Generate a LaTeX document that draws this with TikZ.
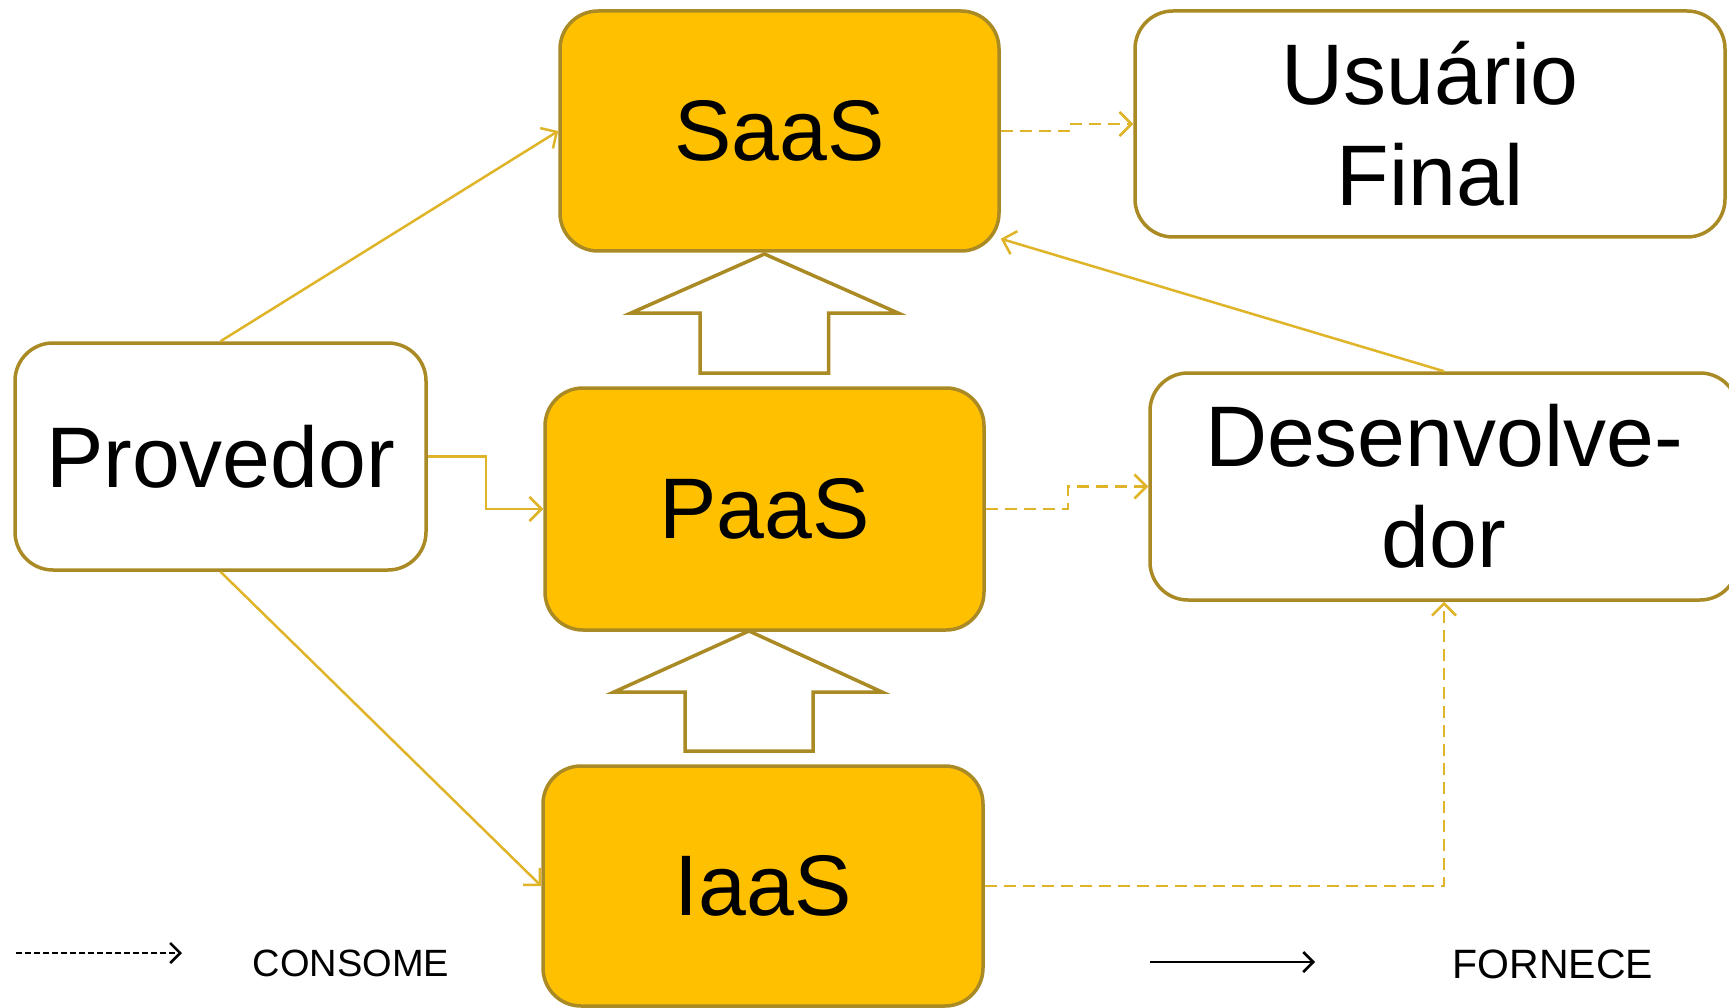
\documentclass[tikz,border=0pt]{standalone}
\usepackage{fontspec}
\setmainfont{Liberation Sans}
\usetikzlibrary{arrows.meta,calc}
\definecolor{gold}{RGB}{255,192,0}
\definecolor{olive}{RGB}{170,138,36}
\definecolor{conn}{RGB}{224,180,40}
\begin{document}
\begin{tikzpicture}[x=1pt,y=-1pt,
 box/.style={draw=olive,line width=3.5pt,rounded corners=38pt,inner sep=0pt,font=\fontsize{86}{101}\selectfont,align=center},
 svc/.style={box,fill=gold},
 usr/.style={box,fill=white},
 link/.style={draw=conn,line width=2.5pt,-{Straight Barb[length=12pt,width=24pt]}},
 cons/.style={link,dash pattern=on 12pt off 7pt},
 blockarrow/.style={draw=olive,line width=3.5pt,fill=white,line join=miter},
 legendarrow/.style={draw=black,line width=2.5pt,-{Straight Barb[length=10pt,width=20pt]}}]
\clip (0,0) rectangle (1729,1008);
\fill[white] (0,0) rectangle (1729,1008);
% boxes
\node[svc,minimum width=439pt,minimum height=240pt] (SaaS) at (779.5,131) {SaaS};
\node[svc,minimum width=439pt,minimum height=242pt] (PaaS) at (764.5,509) {PaaS};
\node[svc,minimum width=440pt,minimum height=240pt] (IaaS) at (763,886) {IaaS};
\node[usr,minimum width=590pt,minimum height=226pt] (User) at (1430,124) {Usuário\\Final};
\node[usr,minimum width=411pt,minimum height=227pt] (Prov) at (220.5,456.5) {Provedor};
\node[usr,minimum width=588pt,minimum height=227pt] (Dev) at (1444,486.5) {Desenvolve-\\dor};
% block arrows
\draw[blockarrow] (764.5,254) -- (898,313) -- (828.5,313) -- (828.5,373) -- (700,373) -- (700,313) -- (631,313) -- cycle;
\draw[blockarrow] (749,631) -- (882,692) -- (813,692) -- (813,751) -- (685,751) -- (685,692) -- (614,692) -- cycle;
% connectors
\draw[link] (Prov.north) -- (SaaS.west);
\draw[link] (Prov.east) -- ++(58,0) |- (PaaS.west);
\draw[link] (Prov.south) -- (IaaS.west);
\draw[link] (Dev.north) -- ([yshift=14pt]SaaS.south east);
\draw[cons] (SaaS.east) -- ++(68,0) |- (User.west);
\draw[cons] (PaaS.east) -- ++(82,0) |- (Dev.west);
\draw[cons] (IaaS.east) -| (Dev.south);
% legend
\coordinate (c1) at (16,953);
\coordinate (c2) at (182,953);
\draw[legendarrow,dash pattern=on 6pt off 3pt] (c1) -- (c2);
\node[font=\fontsize{38}{44}\selectfont] (cons) at (351,963) {CONSOME};
\coordinate (f1) at (1150,962);
\coordinate (f2) at (1315,962);
\draw[legendarrow] (f1) -- (f2);
\node[font=\fontsize{41}{48}\selectfont] (forn) at (1553,964) {FORNECE};
\end{tikzpicture}
\end{document}
